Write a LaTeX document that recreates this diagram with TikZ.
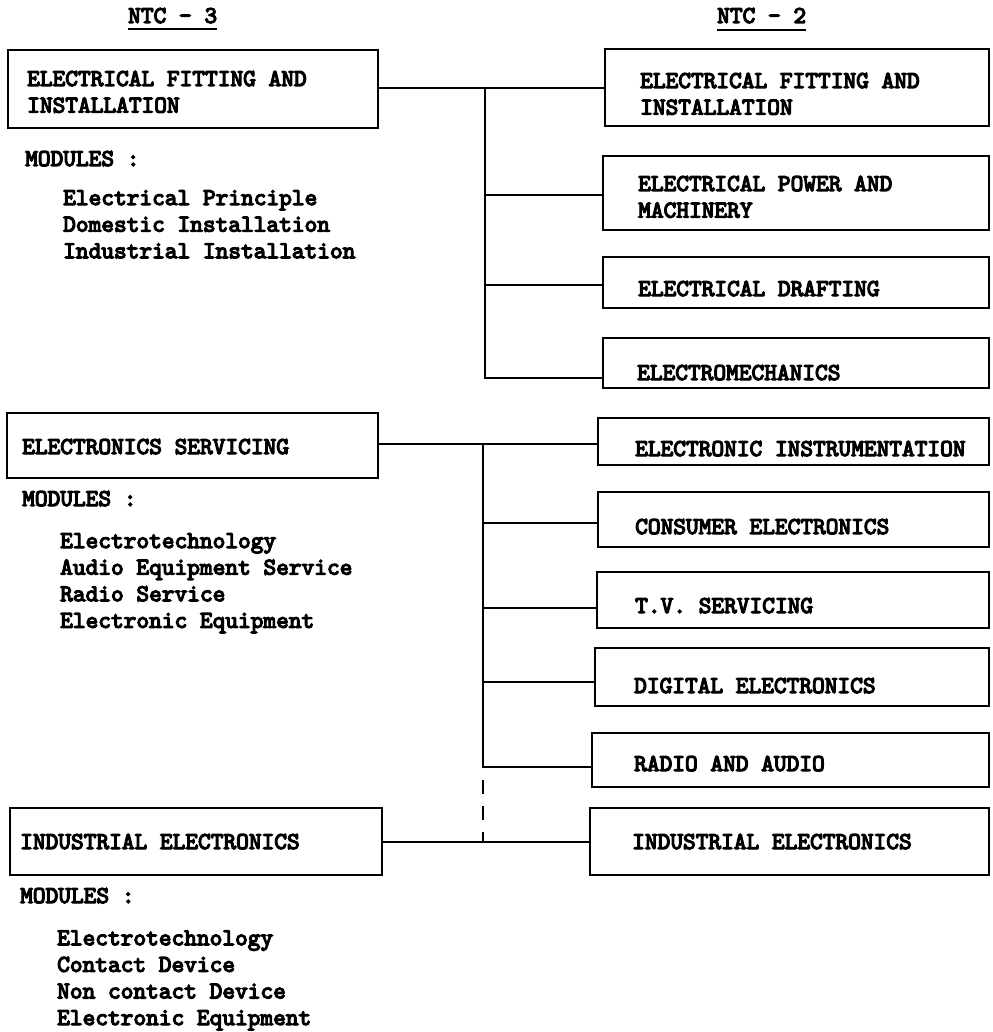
\documentclass[tikz,border=0pt]{standalone}
\usepackage{fontspec}
\newfontfamily\typew{lmmono10-regular.otf}[FakeBold=5]
\begin{document}
\begin{tikzpicture}[x=1pt,y=-1pt,
  box/.style={draw, line width=2.2pt, rectangle, inner sep=0pt},
  lbl/.style={font=\typew\fontsize{24.2}{26.6}\selectfont, anchor=base west, inner sep=0pt, align=left},
  link/.style={line width=2pt},
  dashlink/.style={line width=2pt, dash pattern=on 14pt off 12pt}]
\useasboundingbox (0,0) rectangle (992,1032);
\fill[white] (0,0) rectangle (992,1032);

% headers
\node[lbl] (ntc3) at (128,23) {NTC - 3};
\node[lbl] (ntc2) at (717,23) {NTC - 2};
\draw[line width=1.8pt] ([yshift=-6pt]ntc3.base west) -- ([yshift=-6pt]ntc3.base east);
\draw[line width=1.8pt] ([yshift=-7pt]ntc2.base west) -- ([yshift=-7pt]ntc2.base east);

% left boxes
\node[box, minimum width=370pt, minimum height=78pt] (l1) at (193,89) {};
\node[box, minimum width=371pt, minimum height=65pt] (l2) at (192.5,445.5) {};
\node[box, minimum width=372pt, minimum height=67pt] (l3) at (196,841.5) {};
\node[lbl] (l1t) at (27,112.6) {ELECTRICAL FITTING AND\\INSTALLATION};
\node[lbl] (l2t) at (22,454) {ELECTRONICS SERVICING};
\node[lbl] (l3t) at (20,849) {INDUSTRIAL ELECTRONICS};

% modules
\node[lbl] (m1) at (25,166) {MODULES :};
\node[lbl] (m1l) at (63,258.2) {Electrical Principle\\Domestic Installation\\Industrial Installation};
\node[lbl] (m2) at (22,506) {MODULES :};
\node[lbl] (m2l) at (60,627.8) {Electrotechnology\\Audio Equipment Service\\Radio Service\\Electronic Equipment};
\node[lbl] (m3) at (20,903) {MODULES :};
\node[lbl] (m3l) at (57,1025) {Electrotechnology\\Contact Device\\Non contact Device\\Electronic Equipment};

% right boxes
\node[box, minimum width=384pt, minimum height=77pt] (r1) at (797,87.5) {};
\node[box, minimum width=386pt, minimum height=74pt] (r2) at (796,193) {};
\node[box, minimum width=386pt, minimum height=51pt] (r3) at (796,282.5) {};
\node[box, minimum width=386pt, minimum height=50pt] (r4) at (796,363) {};
\node[box, minimum width=391pt, minimum height=47pt] (r5) at (793.5,441.5) {};
\node[box, minimum width=391pt, minimum height=55pt] (r6) at (793.5,519.5) {};
\node[box, minimum width=392pt, minimum height=56pt] (r7) at (793,600) {};
\node[box, minimum width=394pt, minimum height=58pt] (r8) at (792,677) {};
\node[box, minimum width=397pt, minimum height=54pt] (r9) at (790.5,760) {};
\node[box, minimum width=399pt, minimum height=67pt] (r10) at (789.5,841.5) {};

\node[lbl] (r1t) at (640,114.6) {ELECTRICAL FITTING AND\\INSTALLATION};
\node[lbl] (r2t) at (638,217.6) {ELECTRICAL POWER AND\\MACHINERY};
\node[lbl] (r3t) at (638,296) {ELECTRICAL DRAFTING};
\node[lbl] (r4t) at (637,380) {ELECTROMECHANICS};
\node[lbl] (r5t) at (635,456) {ELECTRONIC INSTRUMENTATION};
\node[lbl] (r6t) at (635,534) {CONSUMER ELECTRONICS};
\node[lbl] (r7t) at (635,613) {T.V. SERVICING};
\node[lbl] (r8t) at (634,693) {DIGITAL ELECTRONICS};
\node[lbl] (r9t) at (634,771) {RADIO AND AUDIO};
\node[lbl] (r10t) at (632,849) {INDUSTRIAL ELECTRONICS};

% bus 1
\coordinate (a1) at (485,88);
\coordinate (a2) at (485,195);
\coordinate (a3) at (485,285);
\coordinate (a4) at (485,378);
\draw[link] (l1.east |- a1) -- (r1.west |- a1);
\draw[link] (a1) -- (a4) -- (r4.west |- a4);
\draw[link] (a2) -- (r2.west |- a2);
\draw[link] (a3) -- (r3.west |- a3);

% bus 2
\coordinate (b1) at (483,444);
\coordinate (b2) at (483,523);
\coordinate (b3) at (483,608);
\coordinate (b4) at (483,682);
\coordinate (b5) at (483,767);
\coordinate (b6) at (483,842);
\draw[link] (l2.east |- b1) -- (r5.west |- b1);
\draw[link] (b1) -- (b5) -- (r9.west |- b5);
\draw[link] (b2) -- (r6.west |- b2);
\draw[link] (b3) -- (r7.west |- b3);
\draw[link] (b4) -- (r8.west |- b4);
\draw[dashlink] ([yshift=-13pt]b5) -- (b6);

% bottom link
\draw[link] (l3.east |- b6) -- (r10.west |- b6);
\end{tikzpicture}
\end{document}
